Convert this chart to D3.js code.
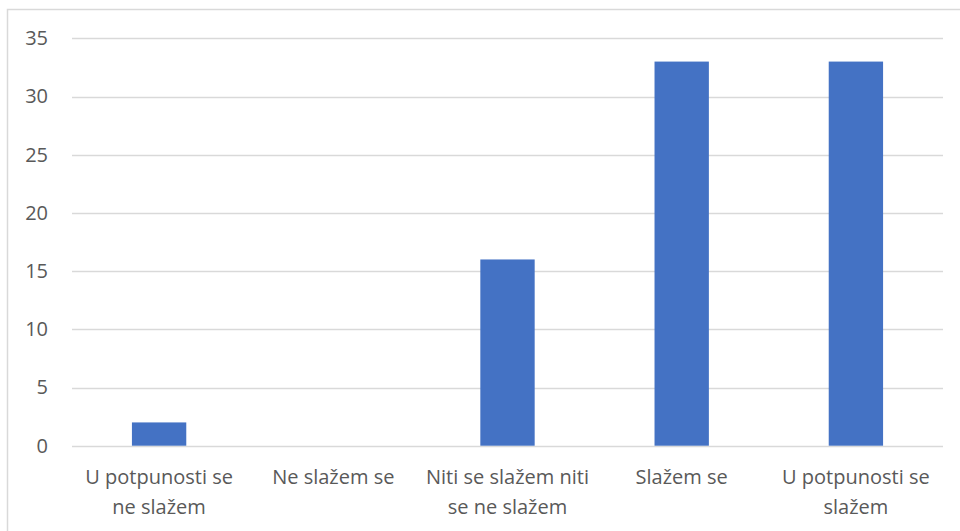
<!DOCTYPE html>
<html lang="hr">
<head>
<meta charset="utf-8">
<title>Chart</title>
<script src="https://cdn.jsdelivr.net/npm/d3@7"></script>
<style>
  body { margin: 0; background: #fff; }
  text { font-family: "Open Sans", sans-serif; fill: #595959; }
</style>
</head>
<body>
<svg id="chart" width="960" height="531"></svg>
<script>
// categories and their wrapped labels
var categories = ["U potpunosti se ne slažem", "Ne slažem se", "Niti se slažem niti se ne slažem", "Slažem se", "U potpunosti se slažem"];
var labelLines = [["U potpunosti se", "ne slažem"], ["Ne slažem se"], ["Niti se slažem niti", "se ne slažem"], ["Slažem se"], ["U potpunosti se", "slažem"]];
var values = [2, 0, 16, 33, 33];
var yTicks = [0, 5, 10, 15, 20, 25, 30, 35];

var svg = d3.select("#chart");

// outer frame
svg.append("rect")
  .attr("x", 7.5).attr("y", 9.5)
  .attr("width", 980).attr("height", 560)
  .attr("fill", "none")
  .attr("stroke", "#d9d9d9")
  .attr("stroke-width", 1.5);

var plotLeft = 72, plotRight = 943, plotTop = 38.3, plotBottom = 445.7;

var x = d3.scaleBand()
  .domain(categories)
  .range([plotLeft, plotRight])
  .paddingInner(0.688)
  .paddingOuter(0.344);

var y = d3.scaleLinear()
  .domain([0, 35])
  .range([plotBottom, plotTop]);

// gridlines
svg.append("g")
  .selectAll("line")
  .data(yTicks)
  .enter()
  .append("line")
  .attr("x1", plotLeft).attr("x2", plotRight)
  .attr("y1", function(d) { return Math.round(y(d)) + 0.5; })
  .attr("y2", function(d) { return Math.round(y(d)) + 0.5; })
  .attr("stroke", "#d9d9d9")
  .attr("stroke-width", 1.5);

// y axis labels
var yAxis = d3.axisLeft(y).tickValues(yTicks).tickSize(0).tickPadding(0);
var gy = svg.append("g")
  .attr("transform", "translate(48,0)")
  .call(yAxis);
gy.select(".domain").remove();
gy.selectAll("text")
  .style("font-family", "'Open Sans', sans-serif")
  .style("font-size", "20px")
  .attr("fill", "#595959");

// bars
svg.append("g")
  .selectAll("rect")
  .data(values)
  .enter()
  .append("rect")
  .attr("x", function(d, i) { return x(categories[i]); })
  .attr("y", function(d) { return y(d); })
  .attr("width", x.bandwidth())
  .attr("height", function(d) { return y(0) - y(d); })
  .attr("fill", "#4472c4");

// x labels
var lab = svg.append("g")
  .selectAll("text")
  .data(categories)
  .enter()
  .append("text")
  .attr("text-anchor", "middle")
  .style("font-size", "20px")
  .attr("x", function(d) { return x(d) + x.bandwidth() / 2; })
  .attr("y", 484);

lab.each(function(d, i) {
  var t = d3.select(this);
  labelLines[i].forEach(function(line, k) {
    t.append("tspan")
      .attr("x", x(d) + x.bandwidth() / 2)
      .attr("dy", k === 0 ? 0 : 30)
      .text(line);
  });
});
</script>
</body>
</html>
